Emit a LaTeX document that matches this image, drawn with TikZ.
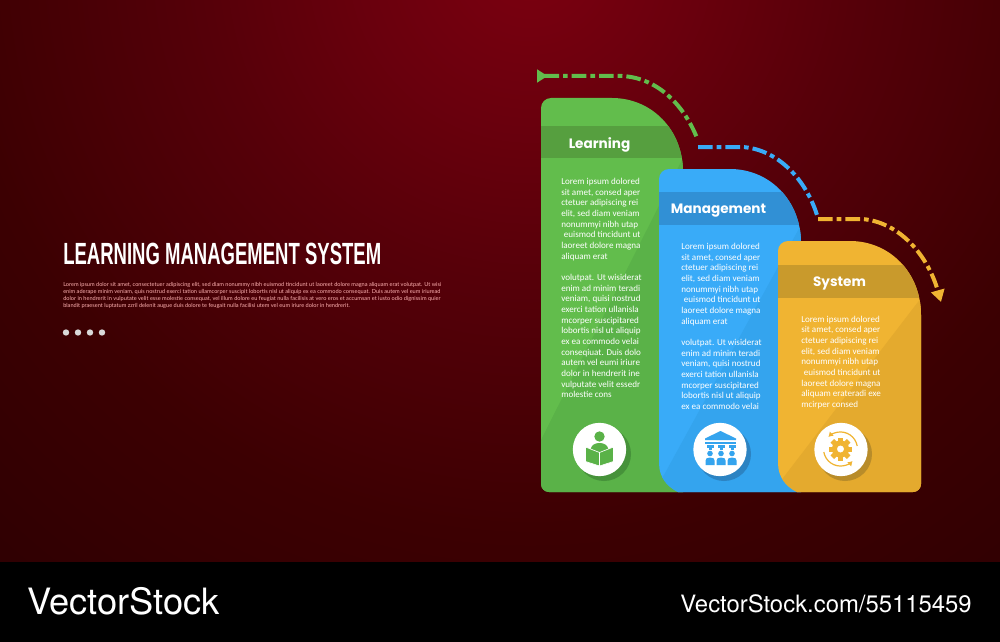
\documentclass[tikz,border=0pt]{standalone}
\usepackage{fontspec}
\setmainfont{Carlito}
\newfontfamily\titlefont[FakeStretch=0.604]{Liberation Sans}
\newfontfamily\headfont{Poppins}
\newfontfamily\stockfont{TeX Gyre Heros}
\newfontfamily\tinyfont{Lato}
\usetikzlibrary{arrows.meta}
\definecolor{bgedge}{HTML}{2A0002}
\definecolor{bgfar}{HTML}{3C0002}
\definecolor{bgmid}{HTML}{560009}
\definecolor{bgnear}{HTML}{6A000D}
\definecolor{bgglow}{HTML}{7C0010}
\definecolor{greenlite}{HTML}{62BD4C}
\definecolor{greenmain}{HTML}{5AB248}
\definecolor{greenband}{HTML}{569F3F}
\definecolor{greenshade}{HTML}{46923A}
\definecolor{bluelite}{HTML}{39ABF8}
\definecolor{bluemain}{HTML}{34A4EE}
\definecolor{blueband}{HTML}{3190D5}
\definecolor{blueshade}{HTML}{2C83C2}
\definecolor{yellowlite}{HTML}{F0B432}
\definecolor{yellowmain}{HTML}{E4AA2E}
\definecolor{yellowband}{HTML}{C99A2C}
\definecolor{yellowshade}{HTML}{B88C2A}
\pgfdeclareradialshading{bgshade}{\pgfpoint{0bp}{0bp}}{color(0bp)=(bgglow); color(4.5bp)=(bgnear); color(9bp)=(bgmid); color(16bp)=(bgfar); color(25bp)=(bgedge); color(50bp)=(bgedge)}
\newcommand{\greenoutline}{(541,108) arc (180:270:10) -- (612,98)
    .. controls (652,98) and (683,130) .. (683,172) -- (683,492) -- (549,492) arc (90:180:8) -- cycle}
\newcommand{\blueoutline}{(659,179) arc (180:270:10) -- (730,169)
    .. controls (770,169) and (801,201) .. (801,243) -- (801,492) -- (678,492)
    .. controls (668,487) and (659,478) .. (659,463) -- cycle}
\newcommand{\yellowoutline}{(778,251) arc (180:270:10) -- (850,241)
    .. controls (890,241) and (921,273) .. (921,315) -- (921,484) arc (0:90:8) -- (797,492)
    .. controls (787,487) and (778,478) .. (778,463) -- cycle}
\tikzset{
  head/.style    = {font=\headfont\fontsize{10.2}{12}\selectfont\bfseries,text=white},
  para/.style    = {font=\fontsize{6.8}{8}\selectfont,text=white,align=left,anchor=north west,inner sep=0pt},
  badge/.style   = {circle,fill=white,minimum size=40pt,inner sep=0pt},
  flow/.style    = {line width=3pt,dash pattern=on 11pt off 3pt on 3.5pt off 3pt},
  stock/.style   = {text=white,anchor=base west,inner sep=0pt}
}
\begin{document}
\begin{tikzpicture}[x=0.75pt,y=-0.75pt]
  \useasboundingbox (0,0) rectangle (1000,642);
  % background
  \begin{scope}
    \clip (0,0) rectangle (1000,642);
    \shade[shading=bgshade] (530,-40) circle (900);
    \fill[black] (0,562) rectangle (1000,642);
  \end{scope}

  % left column
  \node[anchor=west,inner sep=0pt,text=white,font=\titlefont\bfseries\fontsize{23}{25}\selectfont] (title) at (63,254)
    {LEARNING MANAGEMENT SYSTEM};
  \node[anchor=north west,inner sep=0pt,align=left,text=white!70!red,font=\tinyfont\fontsize{4.2}{5.25}\selectfont] (lorem) at (63,282)
    {Lorem ipsum dolor sit amet, consectetuer adipiscing elit, sed diam nonummy nibh euismod tincidunt ut laoreet dolore magna aliquam erat volutpat. Ut wisi\\
    enim aderape minim veniam, quis nostrud exerci tation ullamcorper suscipit lobortis nisl ut aliquip ex ea commodo consequat. Duis autem vel eum iriuread\\
    dolor in hendrerit in vulputate velit esse molestie consequat, vel illum dolore eu feugiat nulla facilisis at vero eros et accumsan et iusto odio dignissim quier\\
    blandit praesent luptatum zzril delenit augue duis dolore te feugait nulla facilisi utem vel eum iriure dolor in hendrerit.};
  \foreach \dotx in {66,78,90,102}
    \fill[gray!30] (\dotx,332.5) circle (3.2);

  % green card
  \fill[greenlite] \greenoutline;
  \begin{scope}
    \clip \greenoutline;
    \fill[greenmain] (683,158) -- (700,492) -- (530,492) -- (541,440) -- cycle;
    \fill[greenband] (541,126) rectangle (683,158);
  \end{scope}
  \node[head] (learning) at (599.5,145) {Learning};
  \node[para] (learntext) at (561,178) {Lorem ipsum dolored\\sit amet, consed aper\\ctetuer adipiscing rei\\elit, sed diam veniam\\nonummyi nibh utap\\\hspace{2pt}euismod tincidunt ut\\laoreet dolore magna\\aliquam erat\\[8pt]
    volutpat. Ut wisiderat\\enim ad minim teradi\\veniam, quisi nostrud\\exerci tation ullanisla\\mcorper suscipitared\\lobortis nisl ut aliquip\\ex ea commodo velai\\conseqiuat. Duis dolo\\autem vel eumi iriure\\dolor in hendrerit ine\\vulputate velit essedr\\molestie cons};

  % blue card
  \fill[bluelite] \blueoutline;
  \begin{scope}
    \clip \blueoutline;
    \fill[bluemain] (801,225) -- (820,492) -- (650,492) -- (664,475) -- cycle;
    \fill[blueband] (659,192) rectangle (801,225);
  \end{scope}
  \node[head] (management) at (718.5,210.5) {Management};
  \node[para] (managetext) at (681,243) {Lorem ipsum dolored\\sit amet, consed aper\\ctetuer adipiscing rei\\elit, sed diam veniam\\nonummyi nibh utap\\\hspace{2pt}euismod tincidunt ut\\laoreet dolore magna\\aliquam erat\\[8pt]
    volutpat. Ut wisiderat\\enim ad minim teradi\\veniam, quisi nostrud\\exerci tation ullanisla\\mcorper suscipitared\\lobortis nisl ut aliquip\\ex ea commodo velai};

  % yellow card
  \fill[yellowlite] \yellowoutline;
  \begin{scope}
    \clip \yellowoutline;
    \fill[yellowmain] (921,298) -- (940,492) -- (770,492) -- (783,478) -- cycle;
    \fill[yellowband] (778,265) rectangle (921,298);
  \end{scope}
  \node[head] (system) at (839.5,283.5) {System};
  \node[para] (systemtext) at (801,315.5) {Lorem ipsum dolored\\sit amet, consed aper\\ctetuer adipiscing rei\\elit, sed diam veniam\\nonummyi nibh utap\\\hspace{2pt}euismod tincidunt ut\\laoreet dolore magna\\aliquam erateradi exe\\mcirper consed};

  % badges
  \fill[greenshade]  (604,454) circle (27);
  \fill[blueshade]   (724,454) circle (27);
  \fill[yellowshade] (845,454) circle (27);
  \node[badge] (learnbadge)  at (599.5,449.5) {};
  \node[badge] (managebadge) at (720,449.5) {};
  \node[badge] (systembadge) at (841,449.5) {};

  % reader icon
  \fill[greenmain] (599.5,436.5) circle (5.2);
  \fill[greenmain] (590.5,450) .. controls (591,445) and (595,443) .. (599.5,443)
    .. controls (604,443) and (608,445) .. (608.5,450) -- (599.5,454) -- cycle;
  \filldraw[greenmain,draw=white,line width=0.5pt] (585.5,447) -- (599.5,452.5) -- (599.5,466) -- (585.5,461.5) -- cycle;
  \filldraw[greenmain,draw=white,line width=0.5pt] (613.5,447) -- (599.5,452.5) -- (599.5,466) -- (613.5,461.5) -- cycle;

  % school icon
  \fill[bluemain] (720.5,431) -- (736,438.5) -- (736,440) -- (705,440) -- (705,438.5) -- cycle;
  \fill[bluemain] (705,441.5) rectangle (736,444);
  \foreach \colx in {710,721,732}{
    \fill[bluemain] (\colx-3.5,445) rectangle (\colx+3.5,448);
    \fill[bluemain] (\colx-1.5,448) rectangle (\colx+1.5,450);
    \fill[bluemain] (\colx,453.5) circle (2.8);
    \fill[bluemain] (\colx-4.5,465) -- (\colx-4.5,460.5) .. controls (\colx-4.5,458.5) and (\colx-3,457.5) .. (\colx,457.5)
      .. controls (\colx+3,457.5) and (\colx+4.5,458.5) .. (\colx+4.5,460.5) -- (\colx+4.5,465) -- cycle;
  }

  % gear icon
  \foreach \toothang in {0,45,...,315}
    \fill[yellowlite,rotate around={\toothang:(840.5,449)}] (838,437.5) rectangle (843,443);
  \fill[yellowlite,even odd rule] (840.5,449) circle (8.6) (840.5,449) circle (3.6);
  \draw[yellowlite,line width=0.9pt,-{Latex[length=3.5pt,width=4.5pt]}] (823.8,452) arc (170:45:17);
  \draw[yellowlite,line width=0.9pt,-{Latex[length=3.5pt,width=4.5pt]}] (857.2,446) arc (-10:-135:17);

  % flow arrows
  \coordinate (start1) at (537,76);
  \coordinate (bend1) at (697,138);
  \coordinate (start2) at (698,147);
  \coordinate (bend2) at (817,215);
  \coordinate (start3) at (818,219);
  \coordinate (tip3) at (941,302);
  \draw[flow,greenlite,{Triangle[reversed,length=8pt,width=9.5pt]}-] (start1) -- (622,76)
    .. controls (660,78) and (685,108) .. (bend1);
  \draw[flow,bluelite] (start2) -- (742,147)
    .. controls (778,149) and (806,180) .. (bend2);
  \draw[flow,yellowlite,-{Triangle[length=9pt,width=10pt]}] (start3) -- (862,219)
    .. controls (900,222) and (928,256) .. (tip3);

  % footer
  \node[stock,font=\stockfont\fontsize{27.2}{30}\selectfont] (stockname) at (27,614) {VectorStock};
  \node[stock,anchor=base east,font=\stockfont\fontsize{17.9}{20}\selectfont] (stockurl) at (972,612) {VectorStock.com/55115459};
\end{tikzpicture}
\end{document}
